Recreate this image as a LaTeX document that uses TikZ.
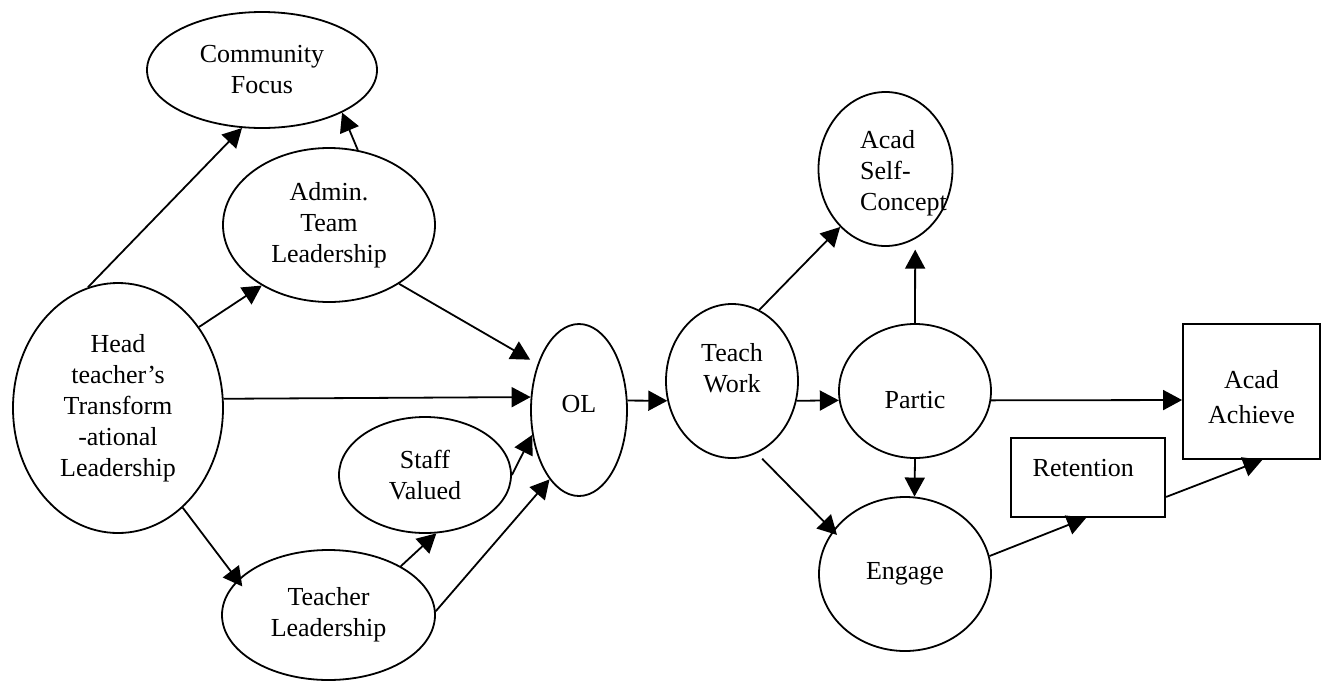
\documentclass[tikz,border=0pt]{standalone}
\usepackage{fontspec}
\setmainfont{Liberation Serif}
\usetikzlibrary{arrows.meta,shapes.geometric}

\begin{document}
\begin{tikzpicture}[x=0.5pt,y=-0.5pt,
  every node/.style={font=\fontsize{13}{15.5}\selectfont},
  oval/.style={draw, ellipse, line width=0.9pt, inner sep=0pt, align=center},
  box/.style={draw, rectangle, line width=0.9pt, inner sep=0pt},
  txt/.style={align=center, inner sep=0pt},
  link/.style={line width=0.9pt, -{Triangle[length=9.5pt,width=10pt]}}
]
% canvas
\fill[white] (0,0) rectangle (1324,681);
\useasboundingbox (0,0) rectangle (1324,681);

% leadership side
\node[oval, minimum width=115pt, minimum height=58pt] (comm) at (262,70) {Community\\Focus};
\node[oval, minimum width=106pt, minimum height=77pt] (admin) at (329,225) {Admin.\\Team\\Leadership};
\node[oval, minimum width=105pt, minimum height=125pt] (head) at (118,408) {Head\\teacher’s\\Transform\\-ational\\Leadership};
\node[oval, minimum width=48pt, minimum height=86pt,
      label={[txt,yshift=3pt]center:OL}] (ol) at (579,410) {};
\node[oval, minimum width=86pt, minimum height=58pt] (staff) at (425,475) {Staff\\Valued};
\node[oval, minimum width=106.5pt, minimum height=65pt] (teachl) at (328.5,615) {Teacher\\Leadership};

% student outcomes side
\node[oval, minimum width=66pt, minimum height=77pt,
      label={[txt,yshift=6.5pt]center:Teach\\Work}] (tw) at (732,381) {};
\node[oval, minimum width=67pt, minimum height=77pt,
      label={[txt,align=left,xshift=9pt,yshift=-2pt]center:Acad\\Self-\\Concept}] (self) at (885.5,169) {};
\node[oval, minimum width=76pt, minimum height=67pt,
      label={[txt,yshift=-4.5pt]center:Partic}] (partic) at (915,391) {};
\node[oval, minimum width=86pt, minimum height=77pt] (engage) at (905,574) {Engage};
\node[box, minimum width=77pt, minimum height=39.5pt,
      label={[txt,xshift=-2.5pt,yshift=4.5pt]center:Retention}] (ret) at (1088.25,477.5) {};
\node[box, minimum width=68.5pt, minimum height=67.5pt,
      label={[txt,yshift=-2.75pt,font=\fontsize{13}{17.5}\selectfont]center:Acad\\Achieve}] (ach) at (1251.5,391.5) {};

% paths
\draw[link] (head.104) -- (comm.251);
\draw[link] (admin.69) -- (comm.332);
\draw[link] (head.45) -- (admin.222);
\draw[link, shorten >=4.25pt] (admin.320) -- (ol.132);
\draw[link] (head.5) -- (ol.165);
\draw[link] (staff.0) -- (ol.208);
\draw[link] (teachl.34) -- (staff.281);
\draw[link] (teachl.2) -- (ol.247);
\draw[link, shorten >=-4pt] (head.303) -- (teachl.159);
\draw[link] (ol.11) -- (tw.197);
\draw[link] (tw.69) -- (self.232);
\draw[link, shorten >=5.3pt] (partic.90) -- (self.293);
\draw[link] (tw.343) -- (partic.187);
\draw[link] (partic.353) -- (ach.187);
\draw[link] (partic.270) -- (engage.83);
\draw[link, shorten <=3.8pt, shorten >=-3pt] (tw.289) -- (engage.149);
\draw[link] (engage.12) -- (ret.267);
\draw[link] (ret.346) -- (ach.279);
\end{tikzpicture}
\end{document}
